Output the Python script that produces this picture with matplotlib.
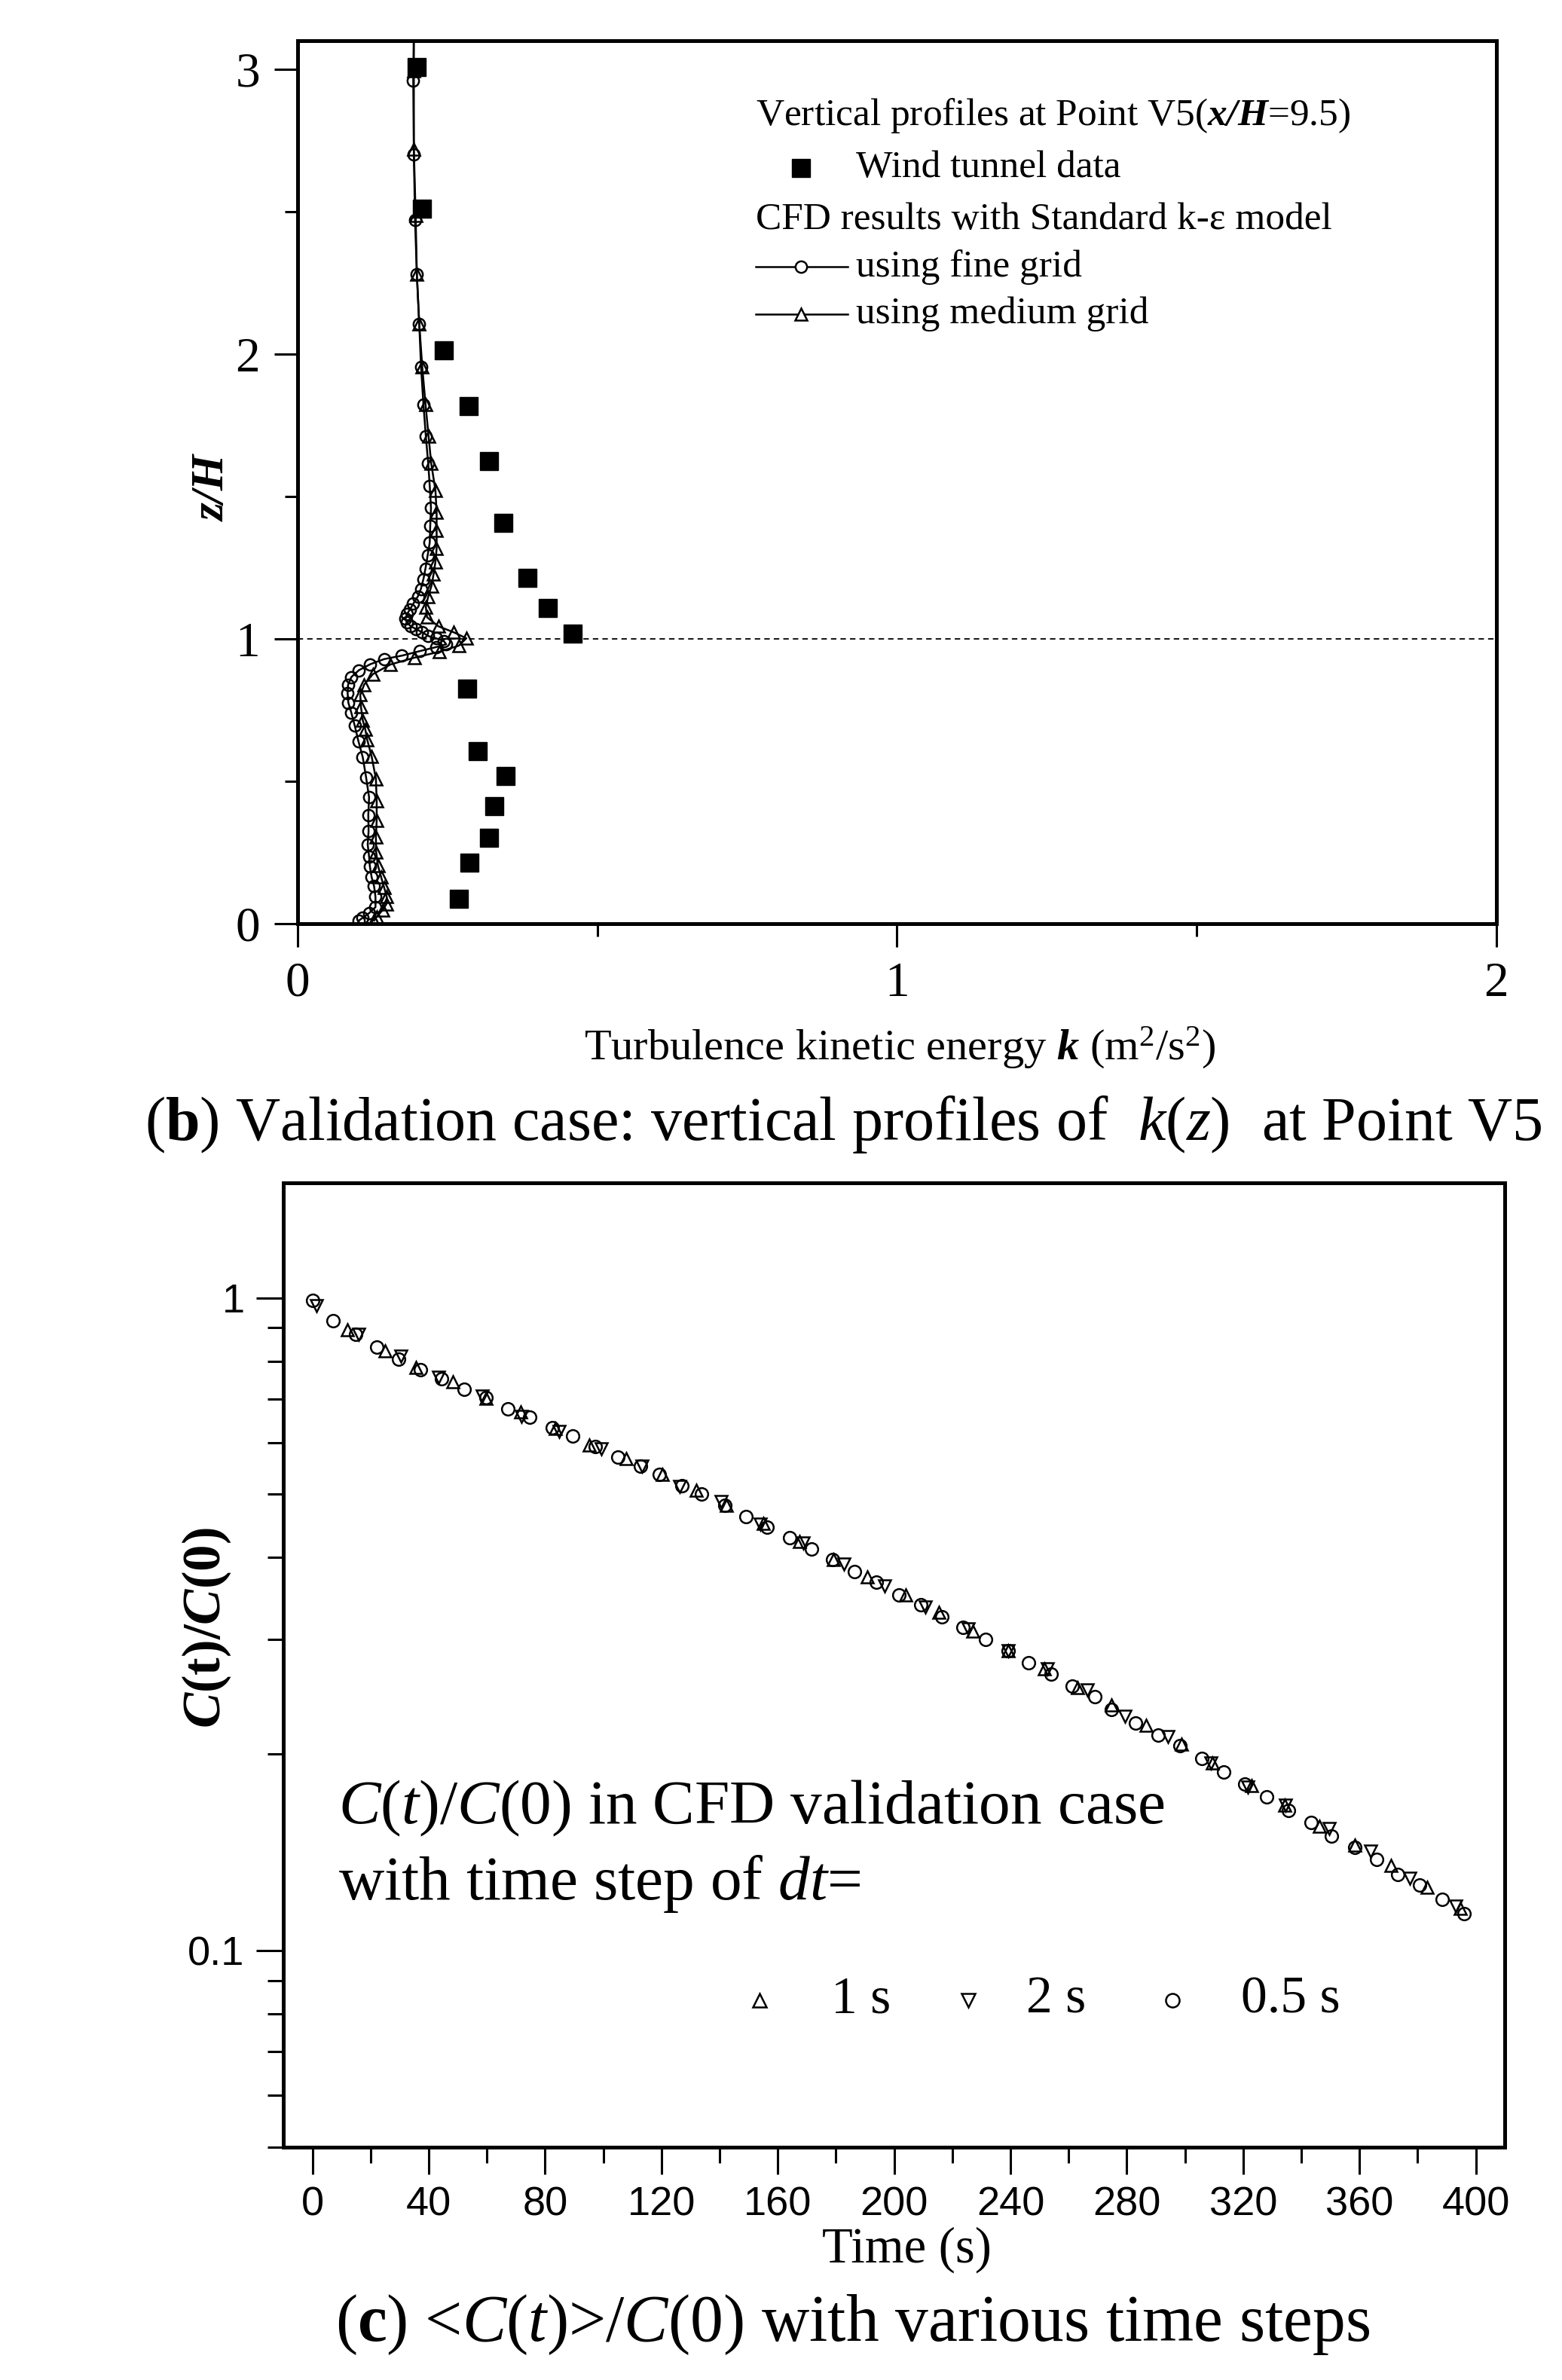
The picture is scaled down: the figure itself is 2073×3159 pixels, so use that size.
import matplotlib
matplotlib.use('Agg')
import matplotlib.pyplot as plt
from matplotlib.lines import Line2D
from matplotlib.ticker import FixedLocator, LogLocator, NullFormatter, FixedFormatter

plt.rcParams['font.family'] = ['Liberation Serif', 'DejaVu Serif']
plt.rcParams['mathtext.fontset'] = 'custom'
plt.rcParams['mathtext.rm'] = 'Liberation Serif'
plt.rcParams['mathtext.it'] = 'Liberation Serif:italic'
plt.rcParams['mathtext.bf'] = 'Liberation Serif:bold'
try:
    plt.rcParams['mathtext.bfit'] = 'Liberation Serif:bold:italic'
except KeyError:
    pass

# ---- (b) vertical profiles of k at V5 ----
k_wt = [0.199, 0.208, 0.244, 0.286, 0.319, 0.343, 0.384, 0.417, 0.459,
        0.283, 0.301, 0.347, 0.328, 0.320, 0.287, 0.269]
z_wt = [3.008, 2.51, 2.013, 1.818, 1.625, 1.408, 1.214, 1.107, 1.018,
        0.824, 0.607, 0.519, 0.412, 0.302, 0.215, 0.086]

k_fine = [0.194, 0.193, 0.194, 0.196, 0.199, 0.203, 0.206, 0.210, 0.214, 0.218,
          0.2205, 0.2226, 0.2213, 0.2205, 0.217, 0.2133, 0.210, 0.2057, 0.2007, 0.193,
          0.187, 0.1825, 0.180, 0.1825, 0.189, 0.198, 0.208, 0.218, 0.231, 0.244,
          0.248, 0.231, 0.204, 0.174, 0.1446, 0.1214, 0.1024, 0.0898, 0.0843, 0.0835,
          0.0847, 0.0898, 0.0953, 0.1016, 0.1088, 0.1143, 0.1193, 0.118, 0.1185, 0.117,
          0.1193, 0.1206, 0.1235, 0.1277, 0.130, 0.130, 0.1193, 0.1088, 0.1024]
z_fine = [3.15, 2.96, 2.70, 2.47, 2.28, 2.106, 1.955, 1.823, 1.711, 1.615,
          1.537, 1.459, 1.396, 1.338, 1.293, 1.246, 1.21, 1.175, 1.149, 1.123,
          1.102, 1.086, 1.070, 1.057, 1.044, 1.034, 1.023, 1.010, 1.002, 0.992,
          0.981, 0.971, 0.957, 0.941, 0.929, 0.911, 0.890, 0.866, 0.839, 0.810,
          0.776, 0.740, 0.696, 0.640, 0.584, 0.514, 0.444, 0.381, 0.325, 0.278,
          0.236, 0.202, 0.164, 0.131, 0.094, 0.058, 0.037, 0.021, 0.011]

k_med = [0.194, 0.194, 0.194, 0.197, 0.199, 0.203, 0.208, 0.2135, 0.2186, 0.223,
         0.230, 0.232, 0.232, 0.232, 0.230, 0.227, 0.2234, 0.218, 0.214, 0.216,
         0.235, 0.2605, 0.2816, 0.269, 0.237, 0.195, 0.155, 0.1256, 0.111, 0.1046,
         0.1058, 0.1088, 0.113, 0.1163, 0.1235, 0.1307, 0.132, 0.132, 0.1307, 0.1311,
         0.134, 0.1395, 0.1446, 0.1488, 0.148, 0.1416, 0.132, 0.1277]
z_med = [3.15, 2.993, 2.72, 2.486, 2.28, 2.106, 1.955, 1.823, 1.711, 1.615,
         1.522, 1.443, 1.380, 1.317, 1.270, 1.228, 1.186, 1.149, 1.112, 1.076,
         1.044, 1.023, 1.002, 0.976, 0.955, 0.934, 0.910, 0.876, 0.839, 0.803,
         0.761, 0.714, 0.682, 0.645, 0.588, 0.509, 0.430, 0.362, 0.304, 0.252,
         0.205, 0.163, 0.126, 0.094, 0.068, 0.047, 0.024, 0.011]

# ---- (c) C(t)/C(0) ----
t_05 = [0, 7.2, 14.9, 22.2, 29.7, 37.1, 44.3, 52.2, 59.7, 67.2, 74.6, 82.4, 89.6,
        97.3, 105, 112.7, 119.4, 127.1, 133.9, 141.8, 149, 156.3, 164, 171.5,
        178.9, 186.4, 194, 201.7, 209.2, 216.5, 223.7, 231.4, 239.1, 246.3, 254,
        261.3, 269, 274.7, 283, 290.9, 298.4, 305.8, 313.2, 320.7, 328.1, 335.6,
        343.5, 350.4, 358.3, 365.8, 373.2, 380.6, 388.5, 396]
c_05 = [0.992, 0.923, 0.880, 0.841, 0.806, 0.776, 0.752, 0.725, 0.703, 0.676,
        0.656, 0.633, 0.614, 0.592, 0.571, 0.552, 0.537, 0.516, 0.501, 0.481,
        0.462, 0.445, 0.429, 0.412, 0.397, 0.381, 0.367, 0.351, 0.339, 0.325,
        0.313, 0.300, 0.288, 0.276, 0.265, 0.254, 0.245, 0.234, 0.223, 0.214,
        0.206, 0.197, 0.188, 0.180, 0.172, 0.164, 0.157, 0.150, 0.144, 0.138,
        0.131, 0.126, 0.120, 0.114]

t_1 = [12, 25, 35.6, 48.2, 59.8, 71.7, 83.5, 95.3, 107.9, 120.4, 132, 142.3,
       155, 167.4, 179, 190.9, 203.9, 215.5, 227, 239.1, 251.6, 263, 274.6,
       286.7, 298.8, 309.5, 323, 334.2, 346.2, 358.3, 370.9, 383.4, 394.6]
c_1 = [0.894, 0.830, 0.783, 0.743, 0.702, 0.668, 0.631, 0.595, 0.567, 0.537,
       0.507, 0.481, 0.451, 0.423, 0.397, 0.374, 0.351, 0.330, 0.309, 0.288,
       0.270, 0.253, 0.238, 0.2215, 0.207, 0.194, 0.179, 0.167, 0.155, 0.145,
       0.135, 0.125, 0.116]

t_2 = [1.5, 15.9, 30.3, 43.3, 58.3, 71.8, 84.8, 99.2, 113.2, 126.2, 140.6, 153.9,
       168.8, 182.7, 196.7, 210.7, 225.6, 239.1, 252.6, 266.5, 279.3, 294.2,
       309, 321.6, 334.7, 349.5, 363.9, 377.4, 393.2]
c_2 = [0.974, 0.879, 0.815, 0.756, 0.707, 0.659, 0.625, 0.587, 0.552, 0.514,
       0.4875, 0.450, 0.421, 0.391, 0.362, 0.336, 0.311, 0.288, 0.270, 0.251,
       0.2285, 0.213, 0.194, 0.178, 0.167, 0.154, 0.142, 0.129, 0.117]

fig = plt.figure(figsize=(20.73, 31.59), dpi=100)

# ================= top panel =================
ax1 = fig.add_axes([0.1905, 0.6119, 0.7675, 0.371])
ax1.axhline(1.0, color='black', lw=1.3, ls=(0, (4, 3)), zorder=1)
ax1.plot(k_med, z_med, color='black', lw=1.8, marker='^', ms=12, mfc='none',
         mec='black', mew=1.8, zorder=3)
ax1.plot(k_fine, z_fine, color='black', lw=1.8, marker='o', ms=11, mfc='none',
         mec='black', mew=1.8, zorder=3)
ax1.plot(k_wt, z_wt, ls='none', marker='s', ms=17, color='black', zorder=4)
ax1.set_xlim(0, 2)
ax1.set_ylim(0, 3.1)
ax1.xaxis.set_major_locator(FixedLocator([0, 1, 2]))
ax1.xaxis.set_minor_locator(FixedLocator([0.5, 1.5]))
ax1.yaxis.set_major_locator(FixedLocator([0, 1, 2, 3]))
ax1.yaxis.set_minor_locator(FixedLocator([0.5, 1.5, 2.5]))
ax1.tick_params(which='major', direction='out', length=22, width=2.2,
                labelsize=47, pad=14)
ax1.tick_params(which='minor', direction='out', length=12, width=2.2)
for sp in ax1.spines.values():
    sp.set_linewidth(3.6)

fig.text(0.576, 0.5597, r'Turbulence kinetic energy $\mathbfit{k}$ (m$^2$/s$^2$)',
         ha='center', va='center', fontsize=42)
fig.text(0.1365, 0.7949, 'z/H', rotation=90, ha='center', va='center',
         fontsize=44, fontweight='bold', style='italic')
fig.text(0.540, 0.5274, r'($\mathbf{b}$) Validation case: vertical profiles of  $k$($z$)  at Point V5',
         ha='center', va='center', fontsize=59)

# legend block (top panel)
lx = 0.4838
fig.text(lx, 0.9513, r'Vertical profiles at Point V5($\mathbfit{x/H}$=9.5)',
         ha='left', va='center', fontsize=37)
fig.add_artist(Line2D([0.5128], [0.9294], ls='none', marker='s', ms=17,
                      color='black', transform=fig.transFigure))
fig.text(0.548, 0.9294, 'Wind tunnel data', ha='left', va='center', fontsize=37)
fig.text(lx, 0.9076, 'CFD results with Standard k-\u03b5 model',
         ha='left', va='center', fontsize=37)
fig.add_artist(Line2D([lx, 0.5427], [0.8879, 0.8879], color='black', lw=1.8,
                      transform=fig.transFigure))
fig.add_artist(Line2D([0.5128], [0.8879], ls='none', marker='o', ms=11,
                      mfc='white', mec='black', mew=1.8, transform=fig.transFigure))
fig.text(0.548, 0.8879, 'using fine grid', ha='left', va='center', fontsize=37)
fig.add_artist(Line2D([lx, 0.5427], [0.868, 0.868], color='black', lw=1.8,
                      transform=fig.transFigure))
fig.add_artist(Line2D([0.5128], [0.868], ls='none', marker='^', ms=12,
                      mfc='white', mec='black', mew=1.8, transform=fig.transFigure))
fig.text(0.548, 0.868, 'using medium grid', ha='left', va='center', fontsize=37)

# ================= bottom panel =================
ax2 = fig.add_axes([0.1814, 0.0978, 0.782, 0.4052])
ax2.set_yscale('log')
ax2.plot(t_1, c_1, ls='none', marker='^', ms=12, mfc='none', mec='black', mew=1.8)
ax2.plot(t_2, c_2, ls='none', marker='v', ms=12, mfc='none', mec='black', mew=1.8)
ax2.plot(t_05, c_05, ls='none', marker='o', ms=12, mfc='none', mec='black', mew=1.8)
ax2.set_xlim(-10, 410)
ax2.set_ylim(0.05, 1.5)
ax2.xaxis.set_major_locator(FixedLocator(list(range(0, 401, 40))))
ax2.xaxis.set_minor_locator(FixedLocator(list(range(20, 400, 40))))
ax2.yaxis.set_major_locator(FixedLocator([0.1, 1]))
ax2.yaxis.set_major_formatter(FixedFormatter(['0.1', '1']))
ax2.yaxis.set_minor_locator(LogLocator(base=10, subs=[2, 3, 4, 5, 6, 7, 8, 9]))
ax2.yaxis.set_minor_formatter(NullFormatter())
ax2.tick_params(which='major', direction='out', length=26, width=2.2,
                labelsize=39, pad=11)
ax2.tick_params(which='minor', direction='out', length=15, width=2.2)
for lab in ax2.get_xticklabels() + ax2.get_yticklabels():
    lab.set_fontfamily('Liberation Sans')
for sp in ax2.spines.values():
    sp.set_linewidth(3.6)

fig.text(0.1322, 0.3159, r'$\mathbfit{C}$(t)/$\mathbfit{C}$(0)', rotation=90,
         ha='center', va='center', fontsize=51, fontweight='bold')
fig.text(0.5803, 0.0548, 'Time (s)', ha='center', va='center', fontsize=48)
fig.text(0.5457, 0.0234, r'($\mathbf{c}$) <$C$($t$)>/$C$($0$) with various time steps',
         ha='center', va='center', fontsize=63)

fig.text(0.2166, 0.2403, r'$C$($t$)/$C$(0) in CFD validation case',
         ha='left', va='center', fontsize=60)
fig.text(0.2166, 0.2086, r'with time step of $dt$=',
         ha='left', va='center', fontsize=60)
fig.add_artist(Line2D([0.4863], [0.1595], ls='none', marker='^', ms=13,
                      mfc='none', mec='black', mew=1.8, transform=fig.transFigure))
fig.text(0.532, 0.1595, '1 s', ha='left', va='center', fontsize=50)
fig.add_artist(Line2D([0.6199], [0.1595], ls='none', marker='v', ms=13,
                      mfc='none', mec='black', mew=1.8, transform=fig.transFigure))
fig.text(0.657, 0.1595, '2 s', ha='left', va='center', fontsize=50)
fig.add_artist(Line2D([0.7506], [0.1595], ls='none', marker='o', ms=13,
                      mfc='none', mec='black', mew=1.8, transform=fig.transFigure))
fig.text(0.7945, 0.1595, '0.5 s', ha='left', va='center', fontsize=50)

fig.savefig('out.png', dpi=100)
